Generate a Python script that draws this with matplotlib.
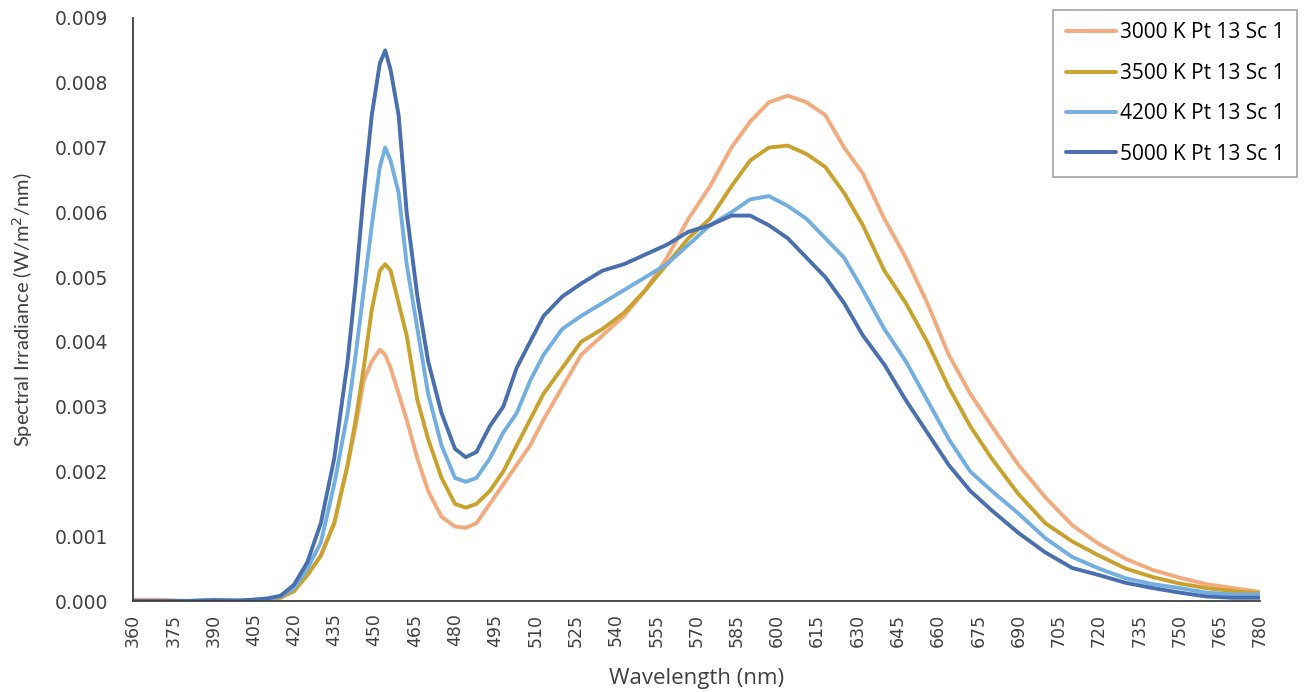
import matplotlib
matplotlib.use("Agg")
import matplotlib.pyplot as plt
import numpy as np

# wavelength grid (nm), denser around the blue peak
wavelength = [360, 370, 380, 390, 400, 405, 410, 415, 420, 425, 430, 435, 440, 443, 446, 449,
              452, 454, 456, 459, 462, 466, 470, 475, 480, 484, 488, 493, 498, 503, 508, 513,
              520, 527, 535, 543, 551, 559, 567, 575, 583, 590, 597, 604, 611, 618, 625, 632,
              640, 648, 656, 664, 672, 680, 690, 700, 710, 720, 730, 740, 750, 760, 770, 780]

k3000 = [0.00002, 0.00002, 0.0, 0.0, 0.0, 0.00001, 0.00003, 0.00006, 0.00018, 0.0004, 0.0007, 0.0012,
         0.0021, 0.0027, 0.0034, 0.0037, 0.00388, 0.0038, 0.0036, 0.0032, 0.0028, 0.0022, 0.0017, 0.0013,
         0.00115, 0.00113, 0.0012, 0.0015, 0.0018, 0.0021, 0.0024, 0.0028, 0.0033, 0.0038, 0.0041, 0.0044,
         0.0048, 0.0053, 0.0059, 0.0064, 0.0070, 0.0074, 0.0077, 0.0078, 0.0077, 0.0075, 0.0070, 0.0066,
         0.0059, 0.0053, 0.0046, 0.0038, 0.0032, 0.0027, 0.0021, 0.0016, 0.00117, 0.00088, 0.00065, 0.00048,
         0.00036, 0.00026, 0.0002, 0.00014]

k3500 = [0.0, 0.0, 0.0, 0.0, 0.0, 0.00001, 0.00002, 0.00005, 0.00015, 0.0004, 0.0007, 0.0012,
         0.0021, 0.0028, 0.0036, 0.0045, 0.0051, 0.0052, 0.0051, 0.0046, 0.0041, 0.0031, 0.0025, 0.0019,
         0.0015, 0.00144, 0.0015, 0.0017, 0.0020, 0.0024, 0.0028, 0.0032, 0.0036, 0.0040, 0.0042, 0.00445,
         0.0048, 0.0052, 0.0056, 0.0059, 0.0064, 0.0068, 0.0070, 0.00703, 0.0069, 0.0067, 0.0063, 0.0058,
         0.0051, 0.0046, 0.0040, 0.0033, 0.0027, 0.0022, 0.00165, 0.0012, 0.00092, 0.0007, 0.0005, 0.00037,
         0.00027, 0.0002, 0.00015, 0.00012]

k4200 = [0.0, 0.0, 0.0, 0.00002, 0.0, 0.00002, 0.00003, 0.00007, 0.0002, 0.0005, 0.0009, 0.0018,
         0.0029, 0.0038, 0.0048, 0.0058, 0.0067, 0.0070, 0.0068, 0.0063, 0.0052, 0.0042, 0.0032, 0.0024,
         0.0019, 0.00184, 0.0019, 0.0022, 0.0026, 0.0029, 0.0034, 0.0038, 0.0042, 0.0044, 0.0046, 0.0048,
         0.0050, 0.0052, 0.0055, 0.0058, 0.0060, 0.0062, 0.00625, 0.0061, 0.0059, 0.0056, 0.0053, 0.0048,
         0.0042, 0.0037, 0.0031, 0.0025, 0.0020, 0.0017, 0.00135, 0.00097, 0.00068, 0.0005, 0.00035, 0.00026,
         0.0002, 0.00013, 0.0001, 0.0001]

k5000 = [0.0, 0.0, 0.0, 0.00001, 0.00001, 0.00002, 0.00004, 0.00008, 0.00025, 0.0006, 0.0012, 0.0022,
         0.0037, 0.0049, 0.0063, 0.0075, 0.0083, 0.0085, 0.0082, 0.0075, 0.0060, 0.0047, 0.0037, 0.0029,
         0.00235, 0.00222, 0.0023, 0.0027, 0.0030, 0.0036, 0.0040, 0.0044, 0.0047, 0.0049, 0.0051, 0.0052,
         0.00535, 0.0055, 0.0057, 0.0058, 0.00595, 0.00595, 0.0058, 0.0056, 0.0053, 0.0050, 0.0046, 0.0041,
         0.00365, 0.0031, 0.0026, 0.0021, 0.0017, 0.0014, 0.00105, 0.00075, 0.00051, 0.0004, 0.00028, 0.0002,
         0.00013, 0.00007, 0.00005, 0.00005]

labels = ["3000 K Pt 13 Sc 1", "3500 K Pt 13 Sc 1", "4200 K Pt 13 Sc 1", "5000 K Pt 13 Sc 1"]
colors = ["#F2AA7E", "#C9A22E", "#72AEE0", "#4A6FAF"]

fig = plt.figure(figsize=(13.06, 6.92), dpi=100)
ax = fig.add_axes([0.1018, 0.1315, 0.8630, 0.8425])

for series, lab, col in zip([k3000, k3500, k4200, k5000], labels, colors):
    ax.plot(wavelength, series, color=col, lw=2.8, label=lab, solid_capstyle="round")

ax.set_xlim(360, 780)
ax.set_ylim(0, 0.009)
ax.set_xticks(np.arange(360, 781, 15))
ax.set_yticks(np.arange(0, 0.0091, 0.001))
ax.yaxis.set_major_formatter(matplotlib.ticker.FormatStrFormatter("%.3f"))
ax.tick_params(axis="x", labelrotation=90, length=0, pad=9, labelsize=12.5, labelcolor="#404040")
ax.tick_params(axis="y", length=0, pad=18, labelsize=13.5, labelcolor="#404040")

for s in ["top", "right"]:
    ax.spines[s].set_visible(False)
for s in ["left", "bottom"]:
    ax.spines[s].set_color("#404040")
    ax.spines[s].set_linewidth(1.3)

ax.set_xlabel("Wavelength (nm)", fontsize=16, family="Open Sans", color="#404040", labelpad=15)
ax.set_ylabel("Spectral Irradiance (W/m$^2$/nm)", fontsize=14.5, family="Lato", color="#404040",
              labelpad=14)

leg = ax.legend(loc="upper right", bbox_to_anchor=(1297 / 1306, 1 - 10 / 692),
                bbox_transform=fig.transFigure, frameon=True, fancybox=False,
                prop={"family": "Open Sans", "size": 15}, labelspacing=0.93,
                handlelength=2.4, handletextpad=0.2, borderpad=0.6, borderaxespad=0)
leg.get_frame().set_edgecolor("#8c8c8c")
leg.get_frame().set_linewidth(1.2)

fig.savefig("out.png", dpi=100)
